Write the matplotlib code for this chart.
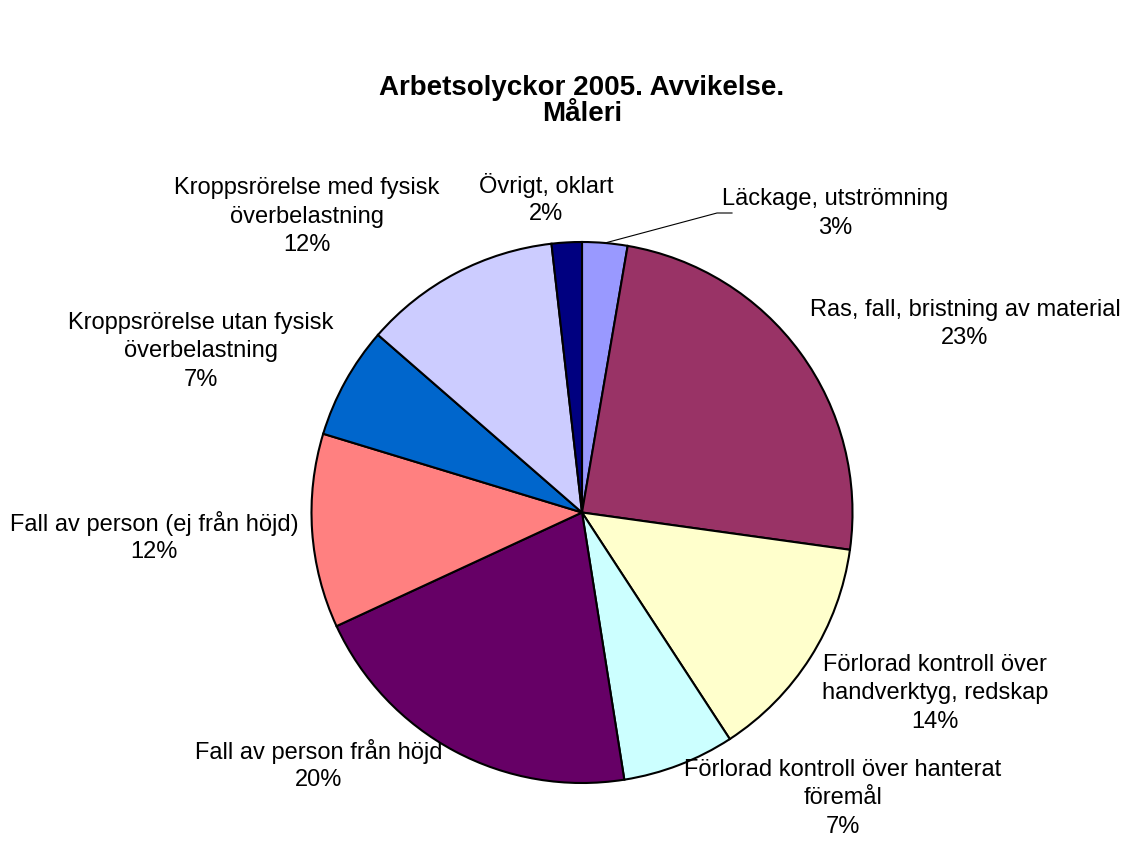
import matplotlib
matplotlib.use("Agg")
import matplotlib.pyplot as plt

plt.rcParams['font.family'] = ['Liberation Sans', 'DejaVu Sans']

# data (clockwise from 12 o'clock)
categories = ["Läckage, utströmning",
              "Ras, fall, bristning av material",
              "Förlorad kontroll över\nhandverktyg, redskap",
              "Förlorad kontroll över hanterat\nföremål",
              "Fall av person från höjd",
              "Fall av person (ej från höjd)",
              "Kroppsrörelse utan fysisk\növerbelastning",
              "Kroppsrörelse med fysisk\növerbelastning",
              "Övrigt, oklart"]
shares = [2.7, 24.5, 13.6, 6.7, 20.6, 11.6, 6.7, 11.8, 1.8]
pct_labels = ["3%", "23%", "14%", "7%", "20%", "12%", "7%", "12%", "2%"]
colors = ["#9999FF", "#993366", "#FFFFCC", "#CCFFFF", "#660066",
          "#FF8080", "#0066CC", "#CCCCFF", "#000080"]

# label centres in pixel coords (x, y from top), first line centre
label_pos = [(835, 199), (965, 310), (935, 665), (843, 770), (319, 751),
             (154, 523), (201, 323), (307, 188), (546, 186)]

W, H = 1123, 860
fig = plt.figure(figsize=(W / 100, H / 100), dpi=100)
ax = fig.add_axes([0, 0, 1, 1])

cx, cy, r = 582, H - 512.5, 270.5
ax.pie(shares, colors=colors, startangle=90, counterclock=False,
       center=(cx, cy), radius=r, frame=True,
       wedgeprops=dict(edgecolor='black', linewidth=1.5))
ax.set_xlim(0, W)
ax.set_ylim(0, H)
ax.set_aspect('equal')
ax.axis('off')

line_h = 28.5
for name, pct, (x, y) in zip(categories, pct_labels, label_pos):
    lines = name.split("\n") + [pct]
    for i, t in enumerate(lines):
        ax.text(x, H - (y + i * line_h), t, ha='center', va='center',
                fontsize=17, color='black')

# leader line for the small top slice
ax.plot([605, 717, 732], [H - 243, H - 213, H - 213], color='black', lw=0.8)

fig.text(582 / W, 1 - 88 / H, "Arbetsolyckor 2005. Avvikelse.", ha='center',
         va='center', fontsize=20, fontweight='bold')
fig.text(582 / W, 1 - 114 / H, "Måleri", ha='center', va='center',
         fontsize=20, fontweight='bold')

fig.savefig("out.png", dpi=100)
